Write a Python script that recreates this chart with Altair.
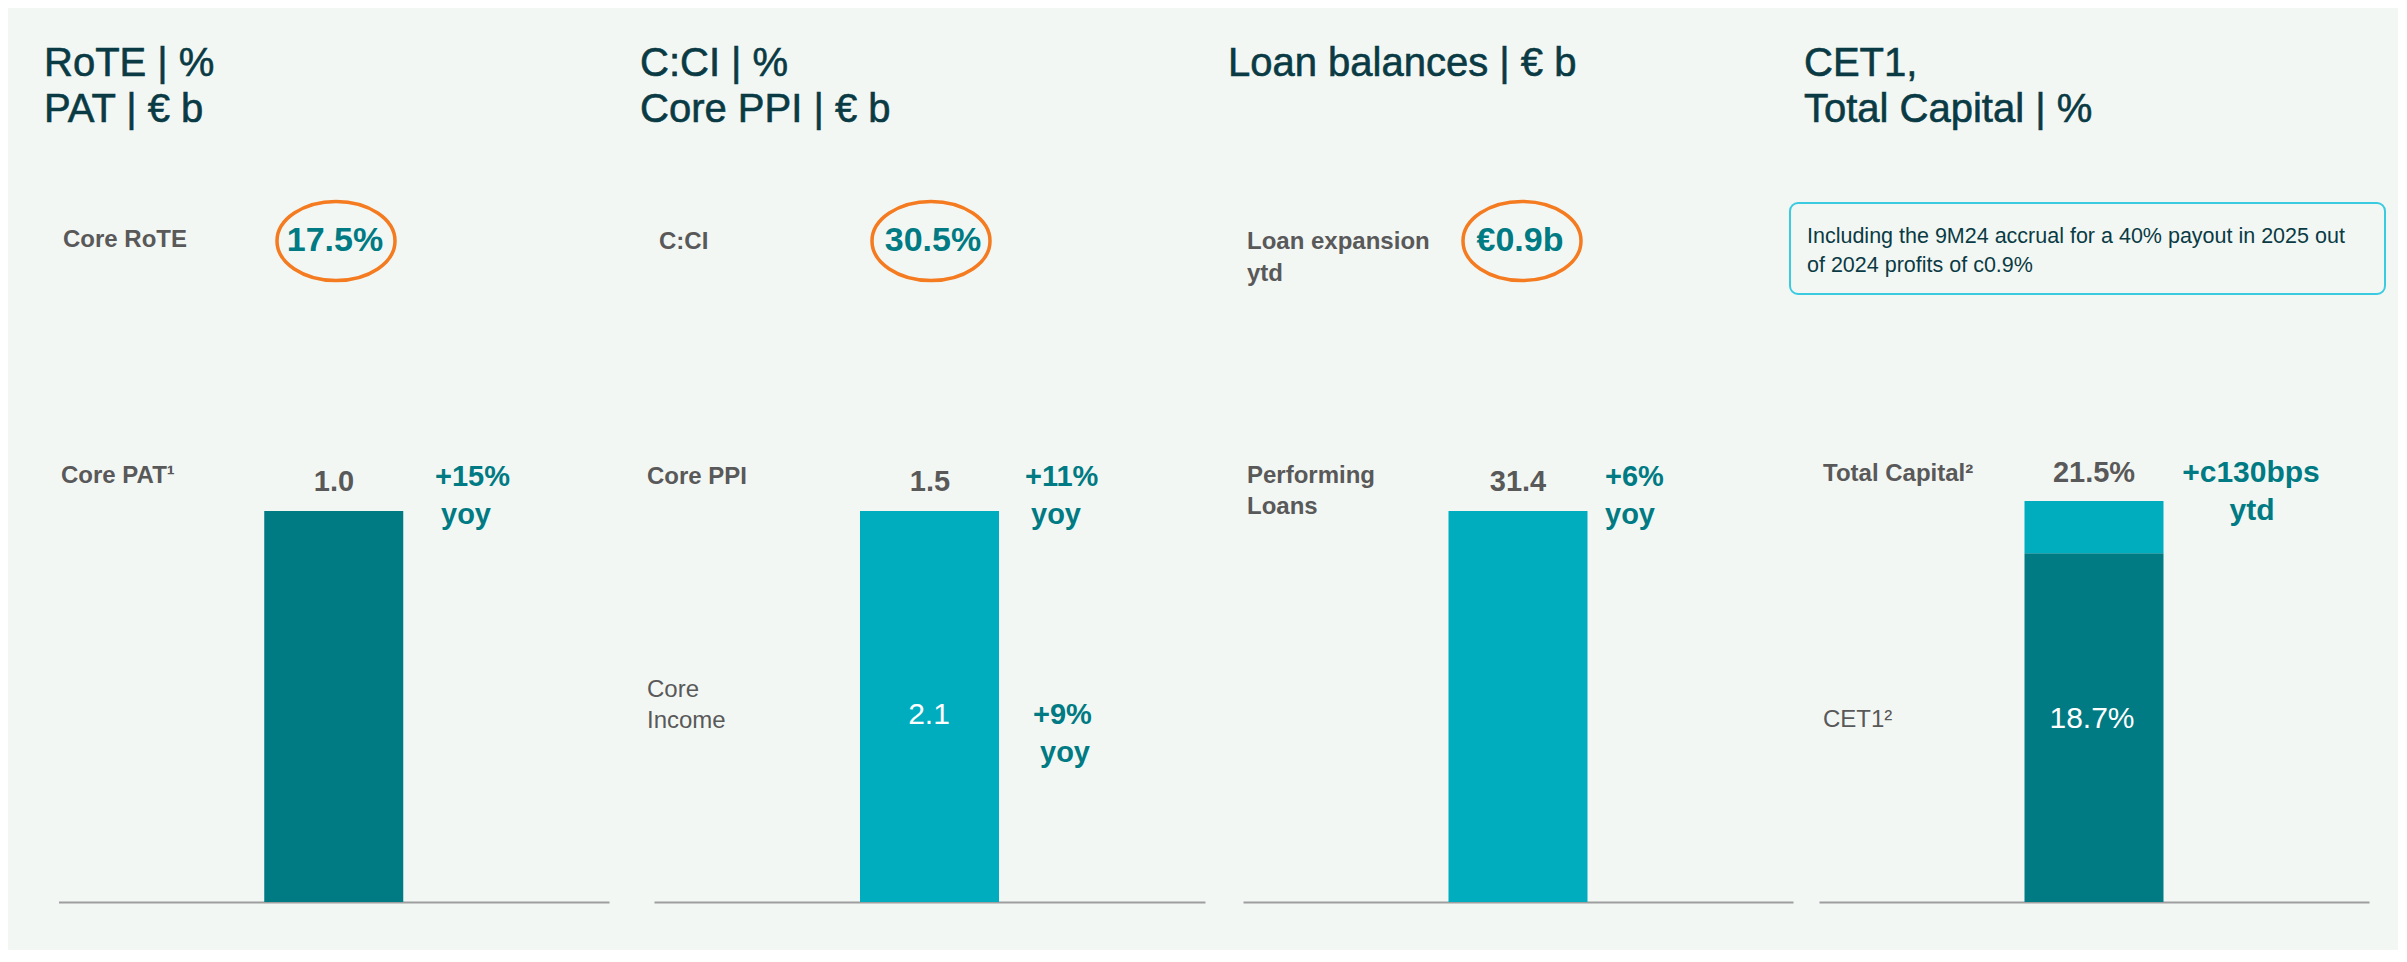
import altair as alt
import pandas as pd

# ---------------- data ----------------
panel_ids = ["RoTE", "C:CI", "Loans", "Capital"]
panel_titles = [["RoTE | %", "PAT | € b"],
                ["C:CI | %", "Core PPI | € b"],
                ["Loan balances | € b"],
                ["CET1,", "Total Capital | %"]]
kpi_labels = [["Core RoTE"], ["C:CI"], ["Loan expansion", "ytd"]]
kpi_values = ["17.5%", "30.5%", "€0.9b"]
bar_labels = [["Core PAT¹"], ["Core PPI"], ["Performing", "Loans"], ["Total Capital²"]]
bar_values = [1.0, 2.1, 31.4]          # Core PAT, Core Income, Performing loans
bar_top_text = ["1.0", "1.5", "31.4", "21.5%"]
growth_text = [["+15%", "yoy"], ["+11%", "yoy"], ["+6%", "yoy"], ["+c130bps", "ytd"]]
core_income_label = ["Core", "Income"]
core_income_text = "2.1"
core_income_growth = ["+9%", "yoy"]
cet1 = 18.7
total_capital = 21.5
cet1_label = ["CET1²"]
cet1_text = "18.7%"
note_lines = ["Including the 9M24 accrual for a 40% payout in 2025 out",
              "of 2024 profits of c0.9%"]

# ---------------- style / layout ----------------
FONT = "Liberation Sans"
BG = "#F3F7F4"
TITLE_C = "#0A3B44"
GRAY = "#595959"
TEAL_T = "#007A83"
DARK = "#007A83"
LIGHT = "#00ADBF"
ORANGE = "#F47B20"
BOX_C = "#3ACBE1"
AXIS_C = "#9E9E9E"

W, PLOT_H = 2390, 894
AXIS_X = [(50.5, 601), (646, 1197), (1235, 1785), (1811, 2361)]
BAR_W = 139
BAR_PX = [391, 391, 391, 401]

TITLE_X = [36, 632, 1220, 1796]
ROW1_LABEL_X = [55, 651, 1239]
KPI_X = [327, 925, 1512]
ELL_X = [328, 923, 1514]
ROW2_LABEL_X = [53, 639, 1239, 1815]
BAR_CX = [326, 922, 1510, 2086]
GROWTH_X = [(427, 433), (1017, 1023), (1597, 1597)]


def text_layer(lines, x, y, size, color, weight="normal", align="left", lh=None, sw=0):
    df = pd.DataFrame({"row": [0]})
    kw = dict(align=align, baseline="alphabetic", font=FONT, fontSize=size,
              fontWeight=weight, color=color)
    if sw:
        kw["stroke"] = color
        kw["strokeWidth"] = sw
    if len(lines) > 1:
        kw["text"] = list(lines)
        kw["lineHeight"] = lh
    else:
        kw["text"] = lines[0]
    return alt.Chart(df).mark_text(**kw).encode(x=alt.value(x), y=alt.value(y))


def x_enc(i):
    L, R = AXIS_X[i]
    r = BAR_W / (R - L)
    pi = 1 - 2 * r / (1 - r)
    return alt.X("panel:N",
                 scale=alt.Scale(domain=[panel_ids[i]], range=[L, R],
                                 paddingInner=pi, paddingOuter=1),
                 axis=alt.Axis(orient="bottom", labels=False, ticks=False, title=None,
                               grid=False, domainColor=AXIS_C, domainWidth=1.8))


layers = []

# bars panels 1-3
for i in range(3):
    v = bar_values[i]
    ymax = v * PLOT_H / BAR_PX[i]
    df = pd.DataFrame({"panel": [panel_ids[i]], "y0": [0.0], "y1": [v]})
    color = DARK if i == 0 else LIGHT
    layers.append(
        alt.Chart(df).mark_bar(color=color).encode(
            x=x_enc(i),
            y=alt.Y("y0:Q", scale=alt.Scale(domain=[0, ymax], nice=False), axis=None),
            y2="y1:Q",
        )
    )

# panel 4 stacked
ymax4 = total_capital * PLOT_H / BAR_PX[3]
df4 = pd.DataFrame({"panel": [panel_ids[3]] * 2,
                    "y0": [0.0, cet1], "y1": [cet1, total_capital],
                    "seg": ["CET1", "Total Capital"]})
enc4 = dict(x=x_enc(3),
            y=alt.Y("y0:Q", scale=alt.Scale(domain=[0, ymax4], nice=False), axis=None),
            y2="y1:Q")
p4 = alt.layer(
    alt.Chart(df4).transform_filter(alt.datum.seg == "CET1").mark_bar(color=DARK).encode(**enc4),
    alt.Chart(df4).transform_filter(alt.datum.seg == "Total Capital").mark_bar(color=LIGHT).encode(**enc4),
)
layers.append(p4)

# titles
for i in range(4):
    layers.append(text_layer(panel_titles[i], TITLE_X[i], 68, 40, TITLE_C, lh=46, sw=0.6))

# KPI row
kpi_lbl_y = [239, 241, 241]
for i in range(3):
    layers.append(text_layer(kpi_labels[i], ROW1_LABEL_X[i], kpi_lbl_y[i], 24, GRAY,
                             weight="bold", lh=32))
    layers.append(text_layer([kpi_values[i]], KPI_X[i], 243, 34, TEAL_T,
                             weight="bold", align="center"))

ell_path = ("M1,0 C1,0.37 0.552,0.67 0,0.67 C-0.552,0.67 -1,0.37 -1,0 "
            "C-1,-0.37 -0.552,-0.67 0,-0.67 C0.552,-0.67 1,-0.37 1,0 Z")
for i in range(3):
    layers.append(
        alt.Chart(pd.DataFrame({"row": [0]})).mark_point(
            shape=ell_path, size=118 * 118, filled=False, color=ORANGE,
            strokeWidth=3.5, opacity=1
        ).encode(x=alt.value(ELL_X[i]), y=alt.value(233))
    )

# note box
layers.append(
    alt.Chart(pd.DataFrame({"row": [0]})).mark_rect(
        fill=BG, stroke=BOX_C, strokeWidth=2, cornerRadius=8
    ).encode(x=alt.value(1782), x2=alt.value(2377), y=alt.value(195), y2=alt.value(286))
)
layers.append(text_layer(note_lines, 1799, 235, 21.5, TITLE_C, lh=29))

# row 2 labels
row2_y = [475, 476, 475, 473]
for i in range(4):
    layers.append(text_layer(bar_labels[i], ROW2_LABEL_X[i], row2_y[i], 24, GRAY,
                             weight="bold", lh=31))
# values on top of bars
top_y = [483, 483, 483, 474]
for i in range(4):
    layers.append(text_layer([bar_top_text[i]], BAR_CX[i], top_y[i], 29, GRAY,
                             weight="bold", align="center"))
# growth annotations
for i in range(3):
    x1, x2 = GROWTH_X[i]
    layers.append(text_layer([growth_text[i][0]], x1, 478, 29, TEAL_T, weight="bold"))
    layers.append(text_layer([growth_text[i][1]], x2, 516, 29, TEAL_T, weight="bold"))
layers.append(text_layer([growth_text[3][0]], 2243, 474, 30, TEAL_T, weight="bold", align="center"))
layers.append(text_layer([growth_text[3][1]], 2244, 512, 30, TEAL_T, weight="bold", align="center"))

# inner annotations
layers.append(text_layer(core_income_label, 639, 689, 24, GRAY, lh=31))
layers.append(text_layer([core_income_text], 921, 716, 30, "white", align="center"))
layers.append(text_layer([core_income_growth[0]], 1025, 716, 29, TEAL_T, weight="bold"))
layers.append(text_layer([core_income_growth[1]], 1032, 754, 29, TEAL_T, weight="bold"))
layers.append(text_layer(cet1_label, 1815, 719, 24, GRAY))
layers.append(text_layer([cet1_text], 2084, 720, 30, "white", align="center"))

chart = alt.layer(*layers).resolve_scale(
    x="independent", y="independent"
).properties(
    width=W, height=PLOT_H,
    padding={"left": 0, "top": 0, "right": 0, "bottom": 48},
    autosize=alt.AutoSizeParams(type="none"),
    background=BG,
).configure_view(stroke=None)

chart.save("out.html", embed_options={"renderer": "svg", "actions": False})
